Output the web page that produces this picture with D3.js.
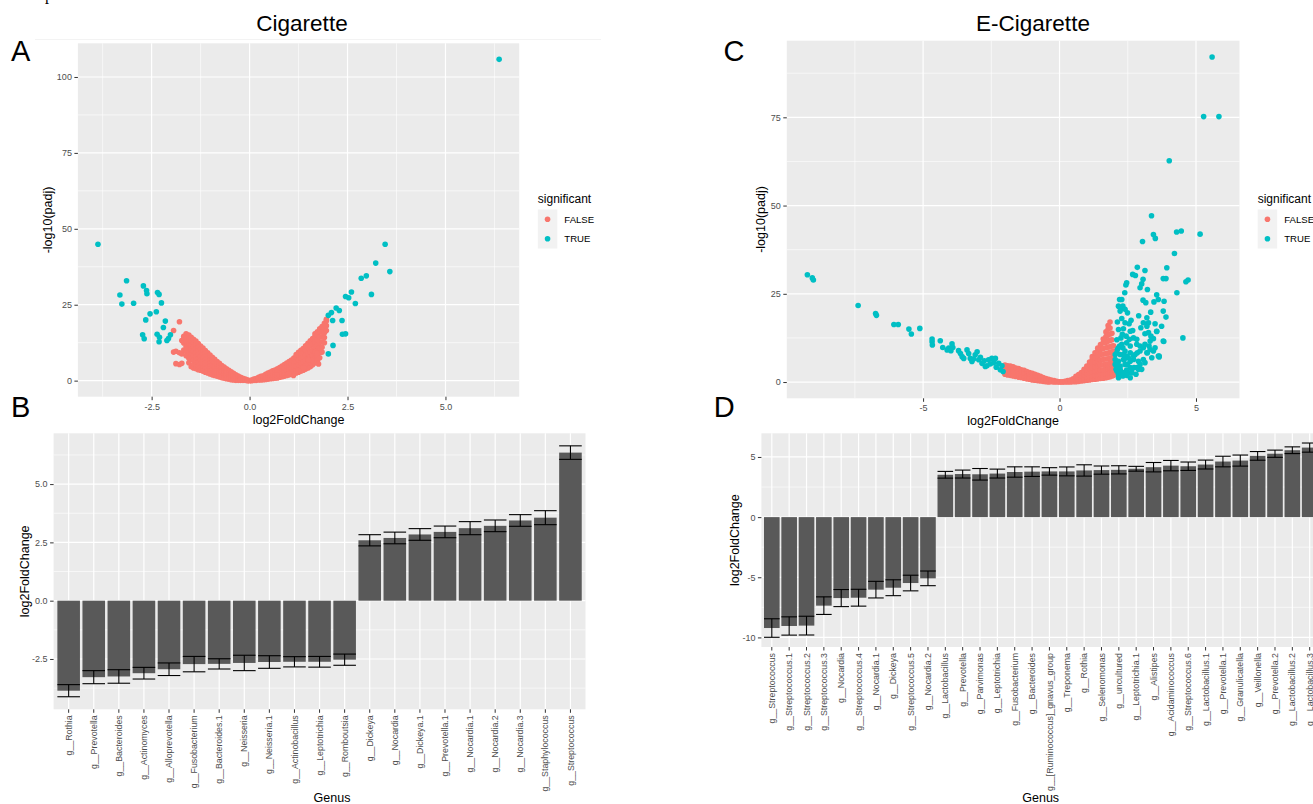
<!DOCTYPE html>
<html>
<head>
<meta charset="utf-8">
<script src="https://cdn.jsdelivr.net/npm/d3@7"></script>
<style>
  body { margin: 0; background: #fff; }
  svg { display: block; font-family: "Liberation Sans", Arial, sans-serif; }
</style>
</head>
<body>
<svg id="fig" width="1313" height="804"></svg>
<script>
// ---- Cigarette volcano (A) ----
var cigTrue = [
  [6.37,105.8],[-3.87,44.9],[-3.14,32.9],[-3.31,28.2],[-3.26,25.2],[-2.96,25.5],[-2.71,31.2],[-2.63,29.7],
  [-2.62,28.6],[-2.54,22.0],[-2.65,20.0],[-2.38,22.7],[-2.35,29.0],[-2.31,28.4],[-2.25,25.6],[-2.73,15.1],
  [-2.69,13.8],[-2.36,15.3],[-2.30,14.3],[-2.31,12.8],[-2.20,17.5],[-2.15,19.6],[-2.11,13.2],[-2.07,13.9],
  [-2.02,15.1],[3.46,44.9],[3.22,38.7],[3.58,35.9],[2.85,33.7],[2.98,34.5],[3.11,28.4],[2.60,29.2],
  [2.45,27.7],[2.53,27.3],[2.70,25.4],[2.21,23.9],[2.29,23.1],[2.01,21.5],[2.09,22.4],[2.12,19.8],
  [2.36,19.8],[2.37,15.3],[2.45,15.4],[2.13,11.6],[2.01,8.8]
];
var cigFalse = [
  [-1.94,16.5],[-1.94,9.4],[-1.88,9.7],[-1.88,5.6],[-1.79,19.4],[-1.79,9.2],[-1.79,5.3],
  [-1.73,13.2],[-1.73,8.8],[-1.73,5.7],[-1.68,14.6],[-1.68,13.8],[-1.68,12.4],[-1.68,10.1],
  [-1.62,15.4],[-1.62,14.1],[-1.62,12.9],[-1.62,11.3],[-1.62,9.6],[-1.62,8.2],
  [-1.55,15.0],[-1.55,13.7],[-1.55,12.1],[-1.55,10.6],[-1.55,9.1],[-1.55,7.4],[-1.55,5.9],
  [-1.49,14.3],[-1.49,13.0],[-1.49,11.6],[-1.49,10.2],[-1.49,8.7],[-1.49,7.1],[-1.49,4.6],
  [-1.43,13.6],[-1.43,12.4],[-1.43,11.0],[-1.43,9.7],[-1.43,8.3],[-1.43,6.8],[-1.43,5.4],[-1.43,4.2],
  [-1.37,13.0],[-1.37,11.8],[-1.37,10.4],[-1.37,9.1],[-1.37,7.8],[-1.37,6.4],[-1.37,5.1],[-1.37,3.9],
  [-1.31,12.2],[-1.31,11.0],[-1.31,9.8],[-1.31,8.5],[-1.31,7.2],[-1.31,6.0],[-1.31,4.7],[-1.31,3.6],
  [-1.25,11.4],[-1.25,10.3],[-1.25,9.1],[-1.25,7.9],[-1.25,6.7],[-1.25,5.5],[-1.25,4.3],[-1.25,3.4],
  [-1.19,10.7],[-1.19,9.6],[-1.19,8.5],[-1.19,7.3],[-1.19,6.2],[-1.19,5.1],[-1.19,4.0],[-1.19,3.1],
  [-1.13,9.9],[-1.13,8.9],[-1.13,7.8],[-1.13,6.8],[-1.13,5.7],[-1.13,4.6],[-1.13,3.7],[-1.13,2.8],
  [-1.07,9.2],[-1.07,8.2],[-1.07,7.2],[-1.07,6.2],[-1.07,5.2],[-1.07,4.2],[-1.07,3.3],[-1.07,2.5],
  [-1.01,8.4],[-1.01,7.5],[-1.01,6.6],[-1.01,5.6],[-1.01,4.7],[-1.01,3.8],[-1.01,3.0],[-1.01,2.2],
  [-0.95,7.7],[-0.95,6.8],[-0.95,6.0],[-0.95,5.1],[-0.95,4.3],[-0.95,3.4],[-0.95,2.6],[-0.95,1.9],
  [-0.89,7.0],[-0.89,6.2],[-0.89,5.4],[-0.89,4.6],[-0.89,3.8],[-0.89,3.0],[-0.89,2.3],[-0.89,1.7],
  [-0.83,6.3],[-0.83,5.6],[-0.83,4.8],[-0.83,4.1],[-0.83,3.4],[-0.83,2.7],[-0.83,2.0],[-0.83,1.5],
  [-0.77,5.7],[-0.77,5.0],[-0.77,4.3],[-0.77,3.6],[-0.77,2.9],[-0.77,2.3],[-0.77,1.7],[-0.77,1.2],
  [-0.71,5.0],[-0.71,4.4],[-0.71,3.8],[-0.71,3.1],[-0.71,2.5],[-0.71,2.0],[-0.71,1.4],[-0.71,1.0],
  [-0.65,4.5],[-0.65,3.9],[-0.65,3.3],[-0.65,2.7],[-0.65,2.2],[-0.65,1.7],[-0.65,1.2],[-0.65,0.8],
  [-0.59,3.9],[-0.59,3.4],[-0.59,2.9],[-0.59,2.4],[-0.59,1.9],[-0.59,1.4],[-0.59,1.0],[-0.59,0.6],
  [-0.53,3.4],[-0.53,2.9],[-0.53,2.5],[-0.53,2.0],[-0.53,1.6],[-0.53,1.2],[-0.53,0.8],[-0.53,0.5],
  [-0.47,2.9],[-0.47,2.5],[-0.47,2.1],[-0.47,1.7],[-0.47,1.3],[-0.47,1.0],[-0.47,0.6],[-0.47,0.3],
  [-0.41,2.4],[-0.41,2.1],[-0.41,1.7],[-0.41,1.4],[-0.41,1.1],[-0.41,0.8],[-0.41,0.5],[-0.41,0.2],
  [-0.35,1.9],[-0.35,1.6],[-0.35,1.3],[-0.35,1.0],[-0.35,0.8],[-0.35,0.5],[-0.35,0.3],[-0.35,0.1],
  [-0.29,1.5],[-0.29,1.2],[-0.29,1.0],[-0.29,0.7],[-0.29,0.5],[-0.29,0.3],[-0.29,0.1],
  [-0.23,1.1],[-0.23,0.9],[-0.23,0.7],[-0.23,0.5],[-0.23,0.3],[-0.23,0.1],
  [-0.17,0.8],[-0.17,0.6],[-0.17,0.4],[-0.17,0.2],[-0.17,0.1],
  [-0.11,0.5],[-0.11,0.3],[-0.11,0.1],[-0.05,0.2],[-0.05,0.1],[-0.05,0.0],[0.00,0.0],
  [0.05,0.0],[0.05,0.2],[0.11,0.1],[0.11,0.3],[0.11,0.5],[0.17,0.1],[0.17,0.4],[0.17,0.7],
  [0.23,0.2],[0.23,0.5],[0.23,0.8],[0.23,1.1],[0.29,0.2],[0.29,0.6],[0.29,1.0],[0.29,1.4],
  [0.35,0.3],[0.35,0.7],[0.35,1.2],[0.35,1.6],[0.41,0.4],[0.41,0.8],[0.41,1.3],[0.41,1.8],[0.41,2.1],
  [0.47,0.5],[0.47,0.9],[0.47,1.4],[0.47,2.0],[0.47,2.5],[0.53,0.6],[0.53,1.0],[0.53,1.6],[0.53,2.2],[0.53,2.8],
  [0.59,0.7],[0.59,1.2],[0.59,1.8],[0.59,2.5],[0.59,3.2],[0.65,0.8],[0.65,1.3],[0.65,2.0],[0.65,2.8],[0.65,3.5],
  [0.71,0.9],[0.71,1.5],[0.71,2.3],[0.71,3.1],[0.71,3.9],[0.77,1.1],[0.77,1.7],[0.77,2.5],[0.77,3.4],[0.77,4.3],
  [0.83,1.3],[0.83,1.9],[0.83,2.8],[0.83,3.8],[0.83,4.8],[0.89,1.5],[0.89,2.1],[0.89,3.1],[0.89,4.2],[0.89,5.3],
  [0.95,1.7],[0.95,2.3],[0.95,3.4],[0.95,4.6],[0.95,5.8],[1.01,1.9],[1.01,2.5],[1.01,3.7],[1.01,5.0],[1.01,6.3],
  [1.07,2.1],[1.07,2.8],[1.07,4.1],[1.07,5.4],[1.07,6.8],[1.13,2.3],[1.13,3.1],[1.13,4.4],[1.13,5.9],[1.13,7.4],
  [1.19,2.5],[1.19,3.4],[1.19,4.8],[1.19,6.3],[1.19,7.9],[1.19,8.6],
  [1.25,2.8],[1.25,3.7],[1.25,5.2],[1.25,6.8],[1.25,8.5],[1.25,9.3],
  [1.31,3.1],[1.31,4.1],[1.31,5.7],[1.31,7.3],[1.31,9.0],[1.31,10.0],
  [1.37,3.4],[1.37,4.5],[1.37,6.1],[1.37,7.8],[1.37,9.6],[1.37,10.6],
  [1.43,3.8],[1.43,4.9],[1.43,6.6],[1.43,8.4],[1.43,10.2],[1.43,11.5],
  [1.49,4.2],[1.49,5.4],[1.49,7.1],[1.49,8.9],[1.49,10.8],[1.49,12.3],
  [1.55,4.6],[1.55,6.0],[1.55,7.7],[1.55,9.5],[1.55,11.4],[1.55,13.1],
  [1.61,5.2],[1.61,6.6],[1.61,8.3],[1.61,10.1],[1.61,12.0],[1.61,13.9],
  [1.67,5.8],[1.67,7.3],[1.67,9.0],[1.67,10.8],[1.67,12.7],[1.67,14.6],[1.67,15.4],
  [1.73,6.4],[1.73,8.1],[1.73,9.8],[1.73,11.6],[1.73,13.5],[1.73,15.2],[1.73,16.1],
  [1.79,7.5],[1.79,9.2],[1.79,10.9],[1.79,12.6],[1.79,14.4],[1.79,16.2],[1.79,17.1],
  [1.85,9.4],[1.85,11.0],[1.85,12.7],[1.85,14.4],[1.85,16.1],[1.85,17.8],
  [1.91,12.5],[1.91,14.2],[1.91,15.8],[1.91,17.4],[1.91,18.9],
  [1.96,16.5],[1.96,18.1],[1.96,19.6],[1.96,20.2],
  [1.12,1.7],[0.99,2.2],[1.25,3.3],[1.38,4.2],[1.59,6.6],[1.76,5.5],[1.68,9.4],[1.72,9.0],[1.50,6.8]
];
var cigXBreaks = [-2.5, 0, 2.5, 5], cigXLabels = ['-2.5', '0.0', '2.5', '5.0'];
var cigYBreaks = [0, 25, 50, 75, 100], cigYLabels = ['0', '25', '50', '75', '100'];

// ---- E-cigarette volcano (C) ----
var ecigTrue = [
  [-9.24,30.4],[-9.06,29.5],[-9.02,28.9],[-7.38,21.7],[-6.74,19.4],[-6.71,18.9],[-6.07,16.3],[-5.91,16.3],
  [-5.52,15.0],[-5.43,13.6],[-5.12,15.2],[-4.67,12.2],[-4.67,11.4],[-4.66,10.5],[-4.37,11.7],[-4.28,9.8],
  [-4.12,9.1],[-4.06,9.6],[-3.94,10.8],[-3.91,9.8],[-3.98,8.9],[-3.70,8.9],[-3.63,8.1],[-3.57,7.2],
  [-3.51,6.7],[-3.39,9.1],[-3.33,8.1],[-3.27,6.7],[-3.09,7.7],[-3.02,8.6],[-3.15,6.5],[-2.96,6.3],
  [-2.90,7.0],[-2.84,5.3],[-2.76,6.0],[-2.66,4.6],[-2.60,6.3],[-2.54,5.1],[-2.48,6.7],[-2.41,5.5],
  [-2.35,6.7],[-2.32,4.2],[-2.23,5.3],[-2.17,3.5],[-2.11,4.6],[-2.07,3.0],[-2.72,4.4],[-3.21,5.8],
  [5.59,92.1],[5.28,75.2],[5.84,75.2],[4.02,62.7],[3.37,47.1],[3.44,41.8],[3.51,40.7],[3.04,39.8],
  [4.29,42.5],[4.46,42.8],[5.15,41.9],[4.21,36.4],[2.85,32.5],[3.13,31.6],[2.68,30.5],[2.78,30.2],
  [3.93,32.4],[3.80,29.3],[3.90,29.3],[4.63,28.4],[4.71,28.9],[2.46,28.1],[2.43,27.5],[3.06,29.1],
  [3.01,27.8],[2.95,26.7],[3.22,26.2],[2.39,25.3],[3.56,24.7],[4.30,25.3],[2.20,23.4],[2.28,23.4],
  [3.06,23.2],[3.16,22.5],[3.46,22.7],[3.62,23.4],[3.83,22.9],[2.16,21.5],[2.24,20.8],[2.32,21.5],
  [2.40,20.6],[2.49,19.6],[2.22,20.1],[3.34,19.8],[3.80,20.1],[3.90,18.4],[3.20,18.2],[3.07,16.8],
  [3.26,16.8],[2.12,17.0],[3.74,15.8],[3.20,15.8],[2.16,14.9],[2.34,15.1],[2.59,14.4],[2.68,14.6],
  [2.98,15.4],[3.56,14.3],[3.13,13.7],[3.26,14.0],[2.44,13.0],[2.56,12.1],[2.71,12.5],[2.83,12.1],
  [3.80,11.6],[4.52,12.5],[2.16,9.7],[2.28,10.7],[2.46,11.1],[2.59,10.2],[2.83,10.7],[2.95,10.2],
  [3.13,10.7],[3.28,10.2],[3.50,9.7],[2.10,8.3],[2.22,7.8],[2.40,8.8],[2.59,8.3],[2.77,7.8],
  [2.95,8.8],[3.20,8.3],[3.32,9.2],[3.44,8.8],[3.65,7.4],[2.04,6.4],[2.16,5.9],[2.34,6.4],
  [2.52,6.9],[2.71,6.4],[2.89,5.9],[3.07,6.4],[2.04,5.0],[2.22,4.5],[2.40,5.0],[2.59,4.1],
  [2.83,4.1],[2.10,3.1],[2.28,2.8],[2.46,3.4],[2.65,3.6],[2.16,2.2],[2.34,2.4],[2.52,2.6],
  [2.07,3.6],[2.12,5.0],[2.04,7.8],[2.12,9.2],[2.20,10.2],[2.32,9.7],[2.34,7.8],[2.46,7.4],
  [2.49,5.0],[2.59,5.9],[2.65,2.6],[2.73,4.1],[2.80,2.2],[2.89,3.6],[2.95,5.0],[2.32,1.7],
  [2.46,1.9],[2.16,1.2],[2.59,1.2],[2.22,3.6],[2.37,6.4],[2.71,7.4],[2.85,8.3],[3.07,9.7],
  [3.22,8.3],[3.38,6.9],[3.13,5.5],[3.01,3.6],[3.32,11.6],[3.44,12.3],[3.56,14.4],[3.62,7.4],
  [3.82,11.5],[3.65,7.1],[2.25,12.5],[2.10,12.0],[2.30,13.5],[2.55,16.5],[2.62,17.5],[2.28,18.0],
  [2.40,16.8],[2.90,18.8],[3.35,13.0],[3.50,16.5]
];
var ecigFalse = [
  [-2.00,4.8],[-2.00,3.9],[-2.00,3.0],[-2.00,2.2],[-1.90,4.6],[-1.90,3.7],[-1.90,2.8],[-1.90,2.0],
  [-1.80,4.5],[-1.80,3.6],[-1.80,2.7],[-1.80,1.9],[-1.70,4.3],[-1.70,3.4],[-1.70,2.5],[-1.70,1.7],
  [-1.60,4.0],[-1.60,3.2],[-1.60,2.4],[-1.60,1.6],[-1.50,3.8],[-1.50,3.0],[-1.50,2.2],[-1.50,1.4],
  [-1.40,3.5],[-1.40,2.8],[-1.40,2.0],[-1.40,1.3],[-1.30,3.3],[-1.30,2.6],[-1.30,1.8],[-1.30,1.1],
  [-1.20,3.0],[-1.20,2.3],[-1.20,1.6],[-1.20,0.9],[-1.10,2.7],[-1.10,2.1],[-1.10,1.4],[-1.10,0.8],
  [-1.00,2.5],[-1.00,1.8],[-1.00,1.2],[-1.00,0.6],[-0.90,2.2],[-0.90,1.6],[-0.90,1.0],[-0.90,0.5],
  [-0.80,1.9],[-0.80,1.3],[-0.80,0.8],[-0.80,0.4],[-0.70,1.6],[-0.70,1.1],[-0.70,0.6],[-0.70,0.3],
  [-0.60,1.3],[-0.60,0.9],[-0.60,0.5],[-0.60,0.2],[-0.50,1.0],[-0.50,0.7],[-0.50,0.3],[-0.50,0.1],
  [-0.40,0.8],[-0.40,0.5],[-0.40,0.2],[-0.40,0.0],[-0.30,0.6],[-0.30,0.3],[-0.30,0.1],
  [-0.20,0.4],[-0.20,0.2],[-0.20,0.0],[-0.10,0.2],[-0.10,0.0],[0.00,0.1],[0.00,0.0],
  [0.10,0.0],[0.10,0.1],[0.20,0.0],[0.20,0.2],[0.30,0.0],[0.30,0.2],[0.30,0.4],
  [0.40,0.0],[0.40,0.3],[0.40,0.6],[0.50,0.1],[0.50,0.5],[0.50,0.9],
  [0.60,0.1],[0.60,0.6],[0.60,1.2],[0.60,1.6],[0.70,0.2],[0.70,0.8],[0.70,1.4],[0.70,2.1],
  [0.80,0.3],[0.80,1.0],[0.80,1.8],[0.80,2.7],[0.90,0.4],[0.90,1.2],[0.90,2.1],[0.90,3.0],[0.90,3.6],
  [1.00,0.5],[1.00,1.4],[1.00,2.4],[1.00,3.4],[1.00,4.5],
  [1.10,0.6],[1.10,1.6],[1.10,2.7],[1.10,3.8],[1.10,4.9],[1.10,5.7],
  [1.20,0.7],[1.20,1.7],[1.20,2.9],[1.20,4.1],[1.20,5.3],[1.20,6.5],[1.20,7.2],
  [1.30,0.8],[1.30,1.9],[1.30,3.1],[1.30,4.4],[1.30,5.7],[1.30,7.0],[1.30,8.3],
  [1.40,0.9],[1.40,2.0],[1.40,3.3],[1.40,4.6],[1.40,6.0],[1.40,7.4],[1.40,8.8],[1.40,9.6],
  [1.50,1.0],[1.50,2.1],[1.50,3.4],[1.50,4.8],[1.50,6.2],[1.50,7.7],[1.50,9.2],[1.50,10.6],
  [1.60,1.1],[1.60,2.2],[1.60,3.5],[1.60,4.9],[1.60,6.4],[1.60,7.9],[1.60,9.5],[1.60,11.1],[1.60,12.2],
  [1.70,1.2],[1.70,2.3],[1.70,3.6],[1.70,5.0],[1.70,6.5],[1.70,8.1],[1.70,9.7],[1.70,11.3],[1.70,12.9],[1.70,14.2],
  [1.78,1.4],[1.78,2.5],[1.78,3.7],[1.78,5.1],[1.78,6.6],[1.78,8.2],[1.78,9.9],[1.78,11.6],[1.78,13.3],[1.78,15.0],[1.78,16.0],
  [1.85,1.5],[1.85,2.6],[1.85,3.9],[1.85,5.3],[1.85,6.8],[1.85,8.4],[1.85,10.0],[1.85,11.8],[1.85,13.6],[1.85,15.3],[1.85,17.0],
  [1.92,1.7],[1.92,2.8],[1.92,4.0],[1.92,5.4],[1.92,6.9],[1.92,8.5],[1.92,10.2],[1.92,12.0],[1.92,13.8],
  [1.98,1.9],[1.98,3.0],[1.98,4.2],[1.98,5.6],[1.98,7.1],[1.98,8.7],[1.98,10.3],
  [2.04,2.2],[2.04,3.3],[2.04,4.5],[2.04,6.0]
];
var ecigXBreaks = [-5, 0, 5], ecigXLabels = ['-5', '0', '5'];
var ecigYBreaks = [0, 25, 50, 75], ecigYLabels = ['0', '25', '50', '75'];

// ---- Cigarette genus bars (B) ----
var cigGenus = ['g__Rothia', 'g__Prevotella', 'g__Bacteroides', 'g__Actinomyces', 'g__Alloprevotella',
  'g__Fusobacterium', 'g__Bacteroides.1', 'g__Neisseria', 'g__Neisseria.1', 'g__Actinobacillus',
  'g__Leptotrichia', 'g__Romboutsia', 'g__Dickeya', 'g__Nocardia', 'g__Dickeya.1', 'g__Prevotella.1',
  'g__Nocardia.1', 'g__Nocardia.2', 'g__Nocardia.3', 'g__Staphylococcus', 'g__Streptococcus'];
var cigLfc = [-3.86, -3.28, -3.25, -3.11, -2.94, -2.72, -2.71, -2.67, -2.63, -2.62, -2.62, -2.53,
  2.59, 2.69, 2.84, 2.95, 3.11, 3.21, 3.44, 3.56, 6.35];
var cigSe = [0.26, 0.28, 0.29, 0.25, 0.27, 0.33, 0.22, 0.33, 0.27, 0.22, 0.23, 0.24,
  0.24, 0.25, 0.25, 0.25, 0.28, 0.25, 0.25, 0.30, 0.29];
var cigBarBreaks = [-2.5, 0, 2.5, 5], cigBarLabels = ['-2.5', '0.0', '2.5', '5.0'];

// ---- E-cigarette genus bars (D) ----
var ecigGenus = ['g__Streptococcus', 'g__Streptococcus.1', 'g__Streptococcus.2', 'g__Streptococcus.3',
  'g__Nocardia', 'g__Streptococcus.4', 'g__Nocardia.1', 'g__Dickeya', 'g__Streptococcus.5', 'g__Nocardia.2',
  'g__Lactobacillus', 'g__Prevotella', 'g__Parvimonas', 'g__Leptotrichia', 'g__Fusobacterium', 'g__Bacteroides',
  'g__[Ruminococcus]_gnavus_group', 'g__Treponema', 'g__Rothia', 'g__Selenomonas', 'g__uncultured',
  'g__Leptotrichia.1', 'g__Alistipes', 'g__Acidaminococcus', 'g__Streptococcus.6', 'g__Lactobacillus.1',
  'g__Prevotella.1', 'g__Granulicatella', 'g__Veillonella', 'g__Prevotella.2', 'g__Lactobacillus.2',
  'g__Lactobacillus.3'];
var ecigLfc = [-9.22, -9.05, -9.02, -7.36, -6.73, -6.70, -6.03, -5.87, -5.48, -5.09,
  3.52, 3.58, 3.56, 3.62, 3.75, 3.78, 3.80, 3.80, 3.88, 3.91, 3.93, 4.02, 4.15, 4.28, 4.23, 4.37,
  4.62, 4.70, 5.09, 5.27, 5.56, 5.78];
var ecigSe = [0.77, 0.76, 0.78, 0.73, 0.71, 0.70, 0.69, 0.66, 0.65, 0.61,
  0.28, 0.33, 0.48, 0.37, 0.43, 0.40, 0.31, 0.37, 0.47, 0.34, 0.34, 0.20, 0.39, 0.43, 0.35, 0.37,
  0.44, 0.46, 0.36, 0.30, 0.28, 0.38];
var ecigBarBreaks = [-10, -5, 0, 5], ecigBarLabels = ['-10', '-5', '0', '5'];

var svg = d3.select('#fig');
var FALSE_COL = '#F8766D', TRUE_COL = '#00BFC4';
var PT_R = 2.8;

// ggplot-like 5% expansion of a continuous range
function expand(ext) {
  var pad = (ext[1] - ext[0]) * 0.05;
  return [ext[0] - pad, ext[1] + pad];
}
// minor breaks halfway between major breaks, inside the domain
function minorBreaks(breaks, domain) {
  var step = breaks[1] - breaks[0], out = [];
  for (var v = breaks[0] - step * 20 + step / 2; v <= domain[1]; v += step) {
    if (v >= domain[0]) out.push(v);
  }
  return out;
}

function styleAxis(g, size) {
  g.attr('font-family', null).attr('font-size', null);
  g.select('.domain').remove();
  g.selectAll('.tick line').attr('stroke', '#333333').attr('stroke-width', 1);
  g.selectAll('.tick text').attr('fill', '#4d4d4d').style('font-size', size + 'px');
}

function panelBg(g, o) {
  g.append('rect')
    .attr('x', o.left).attr('y', o.top)
    .attr('width', o.right - o.left).attr('height', o.bottom - o.top)
    .attr('fill', '#ebebeb');
}

function hGrid(g, o, y, breaks) {
  g.selectAll(null).data(minorBreaks(breaks, y.domain())).enter().append('line')
    .attr('x1', o.left).attr('x2', o.right)
    .attr('y1', d => y(d)).attr('y2', d => y(d))
    .attr('stroke', '#fff').attr('stroke-width', 0.6);
  g.selectAll(null).data(breaks).enter().append('line')
    .attr('x1', o.left).attr('x2', o.right)
    .attr('y1', d => y(d)).attr('y2', d => y(d))
    .attr('stroke', '#fff').attr('stroke-width', 1.2);
}

function label(text, x, y, size, opts) {
  opts = opts || {};
  var t = svg.append('text').attr('x', x).attr('y', y)
    .attr('font-size', size).attr('fill', opts.fill || '#000')
    .attr('text-anchor', opts.anchor || 'start')
    .text(text);
  if (opts.central) t.attr('dominant-baseline', 'central');
  if (opts.rotate) t.attr('transform', 'rotate(-90,' + x + ',' + y + ')');
  return t;
}

function drawVolcano(o) {
  var pts = o.sigFalse.concat(o.sigTrue);
  var x = d3.scaleLinear().domain(expand(d3.extent(pts, d => d[0]))).range([o.left, o.right]);
  var y = d3.scaleLinear().domain(expand(d3.extent(pts, d => d[1]))).range([o.bottom, o.top]);
  var g = svg.append('g');
  panelBg(g, o);

  g.selectAll(null).data(minorBreaks(o.xBreaks, x.domain())).enter().append('line')
    .attr('y1', o.top).attr('y2', o.bottom)
    .attr('x1', d => x(d)).attr('x2', d => x(d))
    .attr('stroke', '#fff').attr('stroke-width', 0.6);
  g.selectAll(null).data(o.xBreaks).enter().append('line')
    .attr('y1', o.top).attr('y2', o.bottom)
    .attr('x1', d => x(d)).attr('x2', d => x(d))
    .attr('stroke', '#fff').attr('stroke-width', 1.2);
  hGrid(g, o, y, o.yBreaks);

  g.selectAll('.pf').data(o.sigFalse).enter().append('circle')
    .attr('class', 'pf')
    .attr('cx', d => x(d[0])).attr('cy', d => y(d[1])).attr('r', PT_R)
    .attr('fill', FALSE_COL);
  g.selectAll('.pt').data(o.sigTrue).enter().append('circle')
    .attr('class', 'pt')
    .attr('cx', d => x(d[0])).attr('cy', d => y(d[1])).attr('r', PT_R)
    .attr('fill', TRUE_COL);

  svg.append('g').attr('transform', 'translate(' + o.left + ',0)')
    .call(d3.axisLeft(y).tickValues(o.yBreaks).tickFormat((d, i) => o.yLabels[i]).tickSize(3.5).tickPadding(2.5))
    .call(s => styleAxis(s, 9));
  svg.append('g').attr('transform', 'translate(0,' + o.bottom + ')')
    .call(d3.axisBottom(x).tickValues(o.xBreaks).tickFormat((d, i) => o.xLabels[i]).tickSize(3.5).tickPadding(3))
    .call(s => styleAxis(s, 9));

  label('log2FoldChange', (o.left + o.right) / 2, o.xTitleY, 12.5, { anchor: 'middle' });
  label('-log10(padj)', o.yTitleX, (o.top + o.bottom) / 2, 12.5, { anchor: 'middle', central: true, rotate: true });
  label(o.title, o.titleX, 31, 22.5, { anchor: 'middle' });
  label(o.letter, o.letterX, 60.7, 29);

  // legend
  var lg = o.legend;
  label('significant', lg.x, 199, 12, { central: true });
  svg.append('rect').attr('x', lg.x).attr('y', 209.5).attr('width', 19.5).attr('height', 39).attr('fill', '#f2f2f2');
  [['FALSE', FALSE_COL, 219.2], ['TRUE', TRUE_COL, 238.8]].forEach(function(k) {
    svg.append('circle').attr('cx', lg.x + 9.75).attr('cy', k[2]).attr('r', PT_R).attr('fill', k[1]);
    label(k[0], lg.x + 26.5, k[2], 9.6, { central: true });
  });
}

function drawBars(o) {
  var x = d3.scaleBand().domain(o.genus).range([o.left, o.right]).paddingInner(0.1).paddingOuter(0.15);
  var lo = d3.min(o.lfc, (v, i) => v - o.se[i]), hi = d3.max(o.lfc, (v, i) => v + o.se[i]);
  var y = d3.scaleLinear().domain(expand([Math.min(lo, 0), Math.max(hi, 0)])).range([o.bottom, o.top]);
  var g = svg.append('g');
  panelBg(g, o);
  hGrid(g, o, y, o.yBreaks);
  g.selectAll(null).data(o.genus).enter().append('line')
    .attr('y1', o.top).attr('y2', o.bottom)
    .attr('x1', d => x(d) + x.bandwidth() / 2).attr('x2', d => x(d) + x.bandwidth() / 2)
    .attr('stroke', '#fff').attr('stroke-width', 1.2);

  g.selectAll('.bar').data(o.lfc).enter().append('rect')
    .attr('class', 'bar')
    .attr('x', (d, i) => x(o.genus[i]))
    .attr('width', x.bandwidth())
    .attr('y', d => y(Math.max(0, d)))
    .attr('height', d => Math.abs(y(d) - y(0)))
    .attr('fill', '#595959');

  var eb = g.selectAll('.eb').data(o.lfc).enter().append('g').attr('class', 'eb')
    .attr('stroke', '#000').attr('stroke-width', 1.1);
  eb.append('line')
    .attr('x1', (d, i) => x(o.genus[i]) + x.bandwidth() / 2)
    .attr('x2', (d, i) => x(o.genus[i]) + x.bandwidth() / 2)
    .attr('y1', (d, i) => y(d - o.se[i])).attr('y2', (d, i) => y(d + o.se[i]));
  [-1, 1].forEach(function(sgn) {
    eb.append('line')
      .attr('x1', (d, i) => x(o.genus[i]))
      .attr('x2', (d, i) => x(o.genus[i]) + x.bandwidth())
      .attr('y1', (d, i) => y(d + sgn * o.se[i])).attr('y2', (d, i) => y(d + sgn * o.se[i]));
  });

  svg.append('g').attr('transform', 'translate(' + o.left + ',0)')
    .call(d3.axisLeft(y).tickValues(o.yBreaks).tickFormat((d, i) => o.yLabels[i]).tickSize(3.5).tickPadding(2.5))
    .call(s => styleAxis(s, 9));
  svg.append('g').attr('transform', 'translate(0,' + o.bottom + ')')
    .call(d3.axisBottom(x).tickSize(3.5))
    .call(s => styleAxis(s, 8.8))
    .call(s => s.selectAll('.tick text')
      .attr('transform', 'rotate(-90)')
      .attr('text-anchor', 'end')
      .attr('x', -6).attr('y', 0).attr('dy', '0.35em'));

  label('Genus', o.xTitleX, 802, 12.5, { anchor: 'middle' });
  label('log2FoldChange', o.yTitleX, (o.top + o.bottom) / 2, 12.5, { anchor: 'middle', central: true, rotate: true });
  label(o.letter, o.letterX, 416.7, 29);
}

// remnants of the page the figure was cut from
svg.append('line').attr('x1', 35).attr('x2', 601).attr('y1', 39.5).attr('y2', 39.5)
  .attr('stroke', '#f3f3f3').attr('stroke-width', 1);
svg.append('text').attr('x', 45).attr('y', -0.5).attr('font-size', 16)
  .attr('font-family', '"Liberation Serif", serif').text('p');

drawVolcano({
  sigFalse: cigFalse, sigTrue: cigTrue,
  xBreaks: cigXBreaks, xLabels: cigXLabels, yBreaks: cigYBreaks, yLabels: cigYLabels,
  left: 77.9, right: 519.2, top: 43.3, bottom: 396.7,
  xTitleY: 423.5, yTitleX: 47.5, title: 'Cigarette', titleX: 302, letter: 'A', letterX: 11,
  legend: { x: 537.8 }
});
drawVolcano({
  sigFalse: ecigFalse, sigTrue: ecigTrue,
  xBreaks: ecigXBreaks, xLabels: ecigXLabels, yBreaks: ecigYBreaks, yLabels: ecigYLabels,
  left: 786.8, right: 1239.5, top: 40.7, bottom: 398.3,
  xTitleY: 425, yTitleX: 761, title: 'E-Cigarette', titleX: 1033, letter: 'C', letterX: 723.5,
  legend: { x: 1257.7 }
});
drawBars({
  genus: cigGenus, lfc: cigLfc, se: cigSe, yBreaks: cigBarBreaks, yLabels: cigBarLabels,
  left: 53.6, right: 585.5, top: 433.3, bottom: 709.3,
  xTitleX: 332, yTitleX: 25, letter: 'B', letterX: 11
});
drawBars({
  genus: ecigGenus, lfc: ecigLfc, se: ecigSe, yBreaks: ecigBarBreaks, yLabels: ecigBarLabels,
  left: 761.4, right: 1320.1, top: 433.3, bottom: 647,
  xTitleX: 1040.7, yTitleX: 734.7, letter: 'D', letterX: 713.7
});
</script>
</body>
</html>
